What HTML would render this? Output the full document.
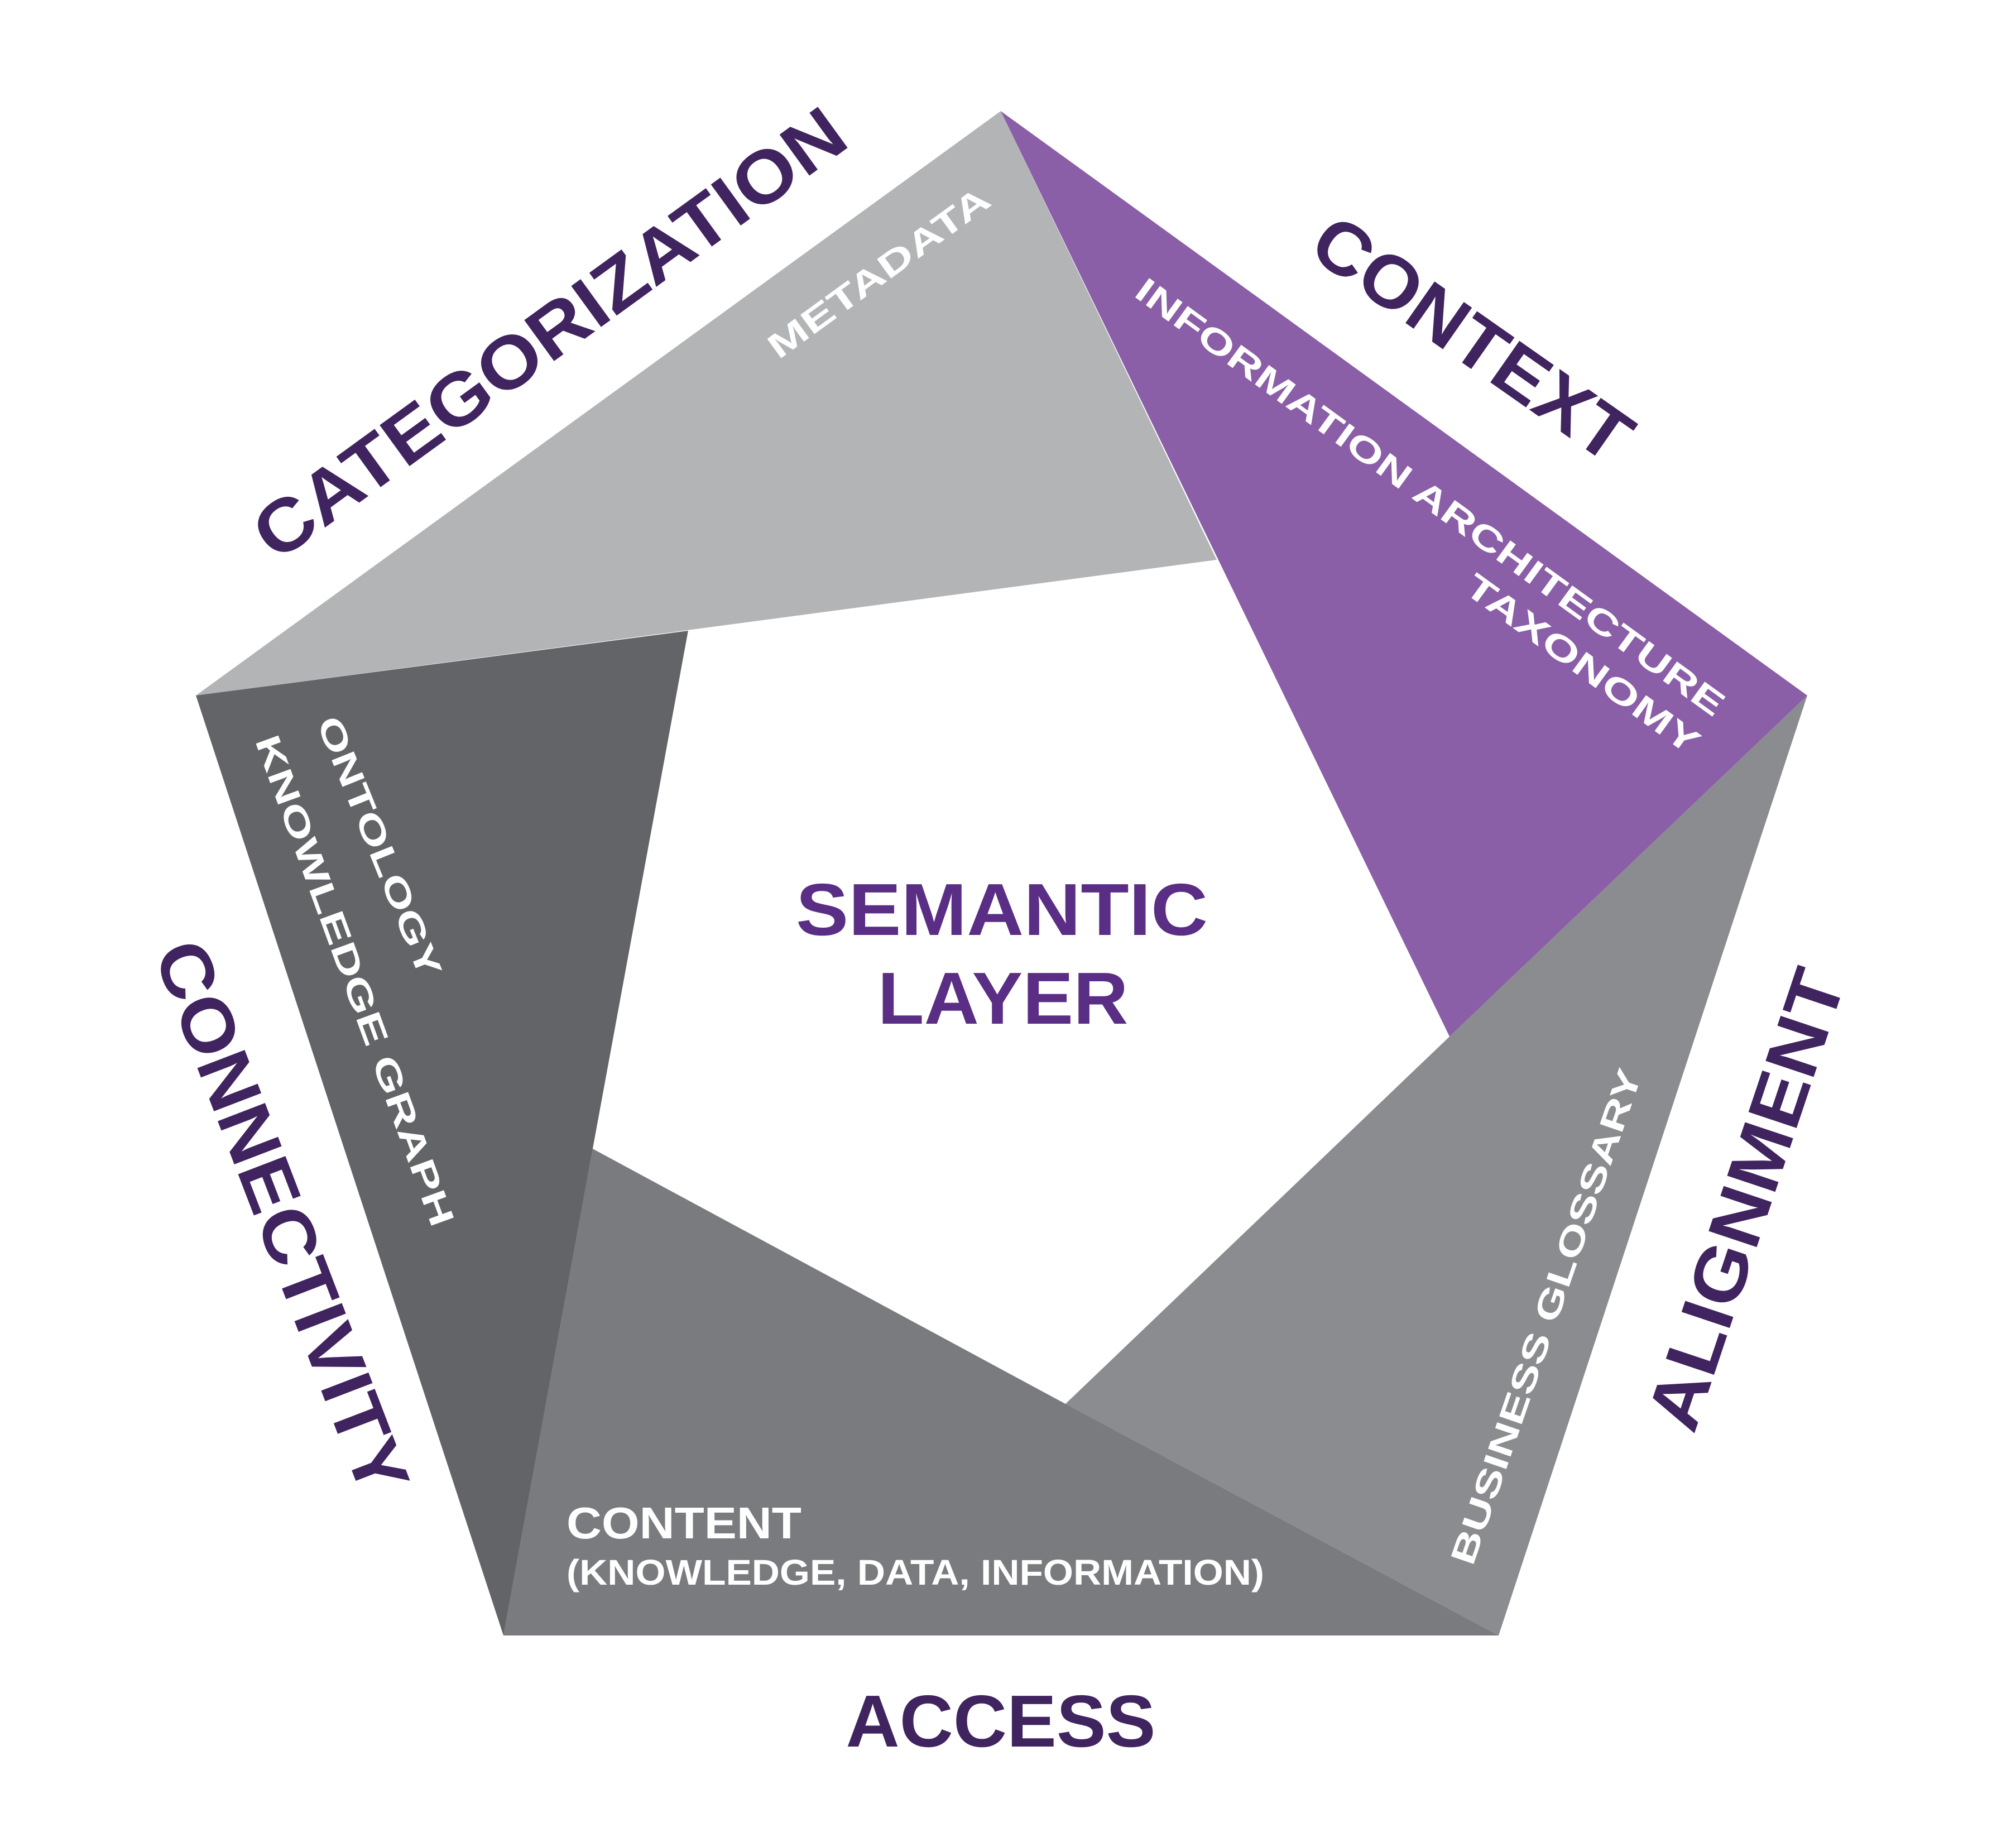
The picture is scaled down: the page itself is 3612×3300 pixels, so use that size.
<!DOCTYPE html>
<html><head><meta charset="utf-8"><style>
html,body{margin:0;padding:0;background:#fff;}
svg{display:block;}
text{font-family:"Liberation Sans",sans-serif;font-weight:bold;}
</style></head><body>
<svg width="3612" height="3300" viewBox="0 0 3612 3300" xmlns="http://www.w3.org/2000/svg">
<rect width="3612" height="3300" fill="#fff"/>
<g transform="translate(-8,0)">
<polygon points="1801,199 2188,1003 359,1246" fill="#b3b4b6"/>
<polygon points="1801,199 3246,1246 2605,1857" fill="#8b5ea8"/>
<polygon points="3246,1246 2693,2930 1917,2515 2605,1857" fill="#8b8c8f"/>
<polygon points="2693,2930 910,2930 1070,2058 1917,2515" fill="#797b7e"/>
<polygon points="910,2930 359,1246 1241,1130 1070,2058" fill="#636467"/>
<polygon points="2188,1003 2605,1857 1917,2515 1070,2058 1241,1130" fill="#fff"/>
</g>

<text x="1795" y="1675" font-size="132" fill="#5a2e85" text-anchor="middle" textLength="738" lengthAdjust="spacingAndGlyphs">SEMANTIC</text>
<text x="1797" y="1834" font-size="132" fill="#5a2e85" text-anchor="middle" textLength="449" lengthAdjust="spacingAndGlyphs">LAYER</text>

<g fill="#40245f" font-size="132">
<text transform="translate(984,597) rotate(-36)" text-anchor="middle" dominant-baseline="central" textLength="1275" lengthAdjust="spacingAndGlyphs">CATEGORIZATION</text>
<text transform="translate(2638,607) rotate(35)" text-anchor="middle" dominant-baseline="central" textLength="665" lengthAdjust="spacingAndGlyphs">CONTEXT</text>
<text transform="translate(3128,2149) rotate(-71.5)" text-anchor="middle" dominant-baseline="central" textLength="860" lengthAdjust="spacingAndGlyphs">ALIGNMENT</text>
<text transform="translate(505,2181) rotate(69)" text-anchor="middle" dominant-baseline="central" textLength="1050" lengthAdjust="spacingAndGlyphs">CONNECTIVITY</text>
<text x="1793" y="3129" font-size="132" text-anchor="middle" textLength="555" lengthAdjust="spacingAndGlyphs">ACCESS</text>
</g>

<g fill="#fff" font-size="62">
<text transform="translate(1575,489) rotate(-36)" text-anchor="middle" dominant-baseline="central" textLength="475" lengthAdjust="spacingAndGlyphs">METADATA</text>
<text transform="translate(2562,891) rotate(36)" text-anchor="middle" dominant-baseline="central" textLength="1287" lengthAdjust="spacingAndGlyphs">INFORMATION ARCHITECTURE</text>
<text transform="translate(2835,1190) rotate(36)" text-anchor="middle" dominant-baseline="central" textLength="502" lengthAdjust="spacingAndGlyphs">TAXONOMY</text>
<text transform="translate(679,1517) rotate(68)" text-anchor="middle" dominant-baseline="central" textLength="498" lengthAdjust="spacingAndGlyphs">ONTOLOGY</text>
<text transform="translate(635,1757) rotate(70)" text-anchor="middle" dominant-baseline="central" textLength="931" lengthAdjust="spacingAndGlyphs">KNOWLEDGE GRAPH</text>
<text transform="translate(2771,2359) rotate(-71)" text-anchor="middle" dominant-baseline="central" textLength="934" lengthAdjust="spacingAndGlyphs">BUSINESS GLOSSARY</text>
<text x="1015" y="2756" font-size="80" textLength="421" lengthAdjust="spacingAndGlyphs">CONTENT</text>
<text x="1015" y="2839" font-size="64" textLength="1250" lengthAdjust="spacingAndGlyphs">(KNOWLEDGE, DATA, INFORMATION)</text>
</g>
</svg>
</body></html>
